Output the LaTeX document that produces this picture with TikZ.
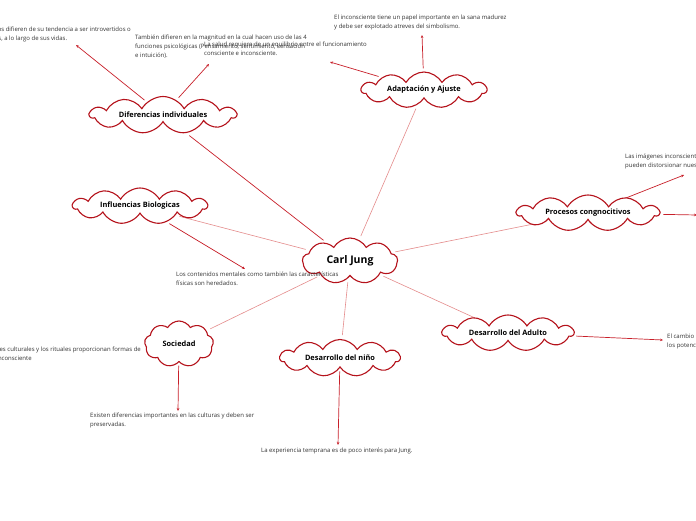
\documentclass[tikz,border=0pt]{standalone}
\usepackage{fontspec}
\setmainfont{Open Sans}
\usetikzlibrary{shapes.symbols,arrows.meta,backgrounds}
\definecolor{cloudred}{HTML}{B5121B}
\definecolor{arrred}{HTML}{C8202A}
\definecolor{lightred}{HTML}{E58C8C}
\definecolor{txtgray}{HTML}{333333}
\tikzset{
  topic/.style={cloud, cloud puffs=11, cloud puff arc=120, cloud ignores aspect, draw=cloudred, line width=1.1pt, fill=white,
    font=\fontsize{7.4}{8}\selectfont\bfseries, inner sep=0pt},
  leaf/.style={anchor=north west, inner sep=0pt, align=left, text=txtgray,
    font=\fontsize{6}{9}\selectfont},
  branch/.style={draw=lightred, line width=0.6pt, shorten <=4pt, shorten >=4pt},
  darkbranch/.style={draw=arrred, line width=0.7pt, shorten <=4pt, shorten >=4pt},
  toleaf/.style={draw=arrred, line width=0.7pt, shorten <=3pt, -{Stealth[length=3pt,width=2.6pt]}},
}
\begin{document}
\begin{tikzpicture}[x=1pt,y=-1pt]
\useasboundingbox (0,0) rectangle (696,520);

% topics
\node[topic, minimum width=95, minimum height=46, cloud puffs=9, font=\fontsize{10.5}{11}\selectfont\bfseries] (jung) at (350,261) {Carl Jung};
\node[topic, minimum width=146, minimum height=37] (dif) at (163,115) {Diferencias individuales};
\node[topic, minimum width=125, minimum height=36] (ada) at (424,90) {Adaptación y Ajuste};
\node[topic, minimum width=134, minimum height=36] (bio) at (140,206) {Influencias Biologicas};
\node[topic, minimum width=142, minimum height=36] (pro) at (588,213) {Procesos congnocitivos};
\node[topic, minimum width=131, minimum height=36] (adu) at (508,333) {Desarrollo del Adulto};
\node[topic, minimum width=120, minimum height=37] (nin) at (340,358) {Desarrollo del niño};
\node[topic, minimum width=69, minimum height=46, cloud puffs=9] (soc) at (179,344) {Sociedad};

% leaf texts
\node[leaf, anchor=north east] (t1) at (131,27) {Los individuos difieren de su tendencia a ser introvertidos o\\extrovertidos, a lo largo de sus vidas.};
\node[leaf] (t2) at (135,35) {También difieren en la magnitud en la cual hacen uso de las 4\\funciones psicológicas (Pensamiento, sentimiento, sensación\\e intuición).};
\node[leaf] (t3) at (204,42) {La salud requiere de un equilibrio entre el funcionamiento\\consciente e inconsciente.};
\node[leaf] (t4) at (334,15) {El inconsciente tiene un papel importante en la sana madurez\\y debe ser explotado atreves del simbolismo.};
\node[leaf] (t5) at (625,154) {Las imágenes inconscientes\\pueden distorsionar nuestra percepción.};
\node[leaf] (t6) at (176,272) {Los contenidos mentales como también las características\\físicas son heredados.};
\node[leaf, anchor=north east] (t7) at (141,347) {Las tradiciones culturales y los rituales proporcionan formas de\\expresar el inconsciente};
\node[leaf] (t8) at (90,413) {Existen diferencias importantes en las culturas y deben ser\\preservadas.};
\node[leaf] (t9) at (261,448) {La experiencia temprana es de poco interés para Jung.};
\node[leaf] (t10) at (667,334) {El cambio es constante\\los potenciales se desarrollan};

% end points of leaf connectors
\coordinate (e1) at (76,45);
\coordinate (e2) at (209,64);
\coordinate (e3) at (330,62);
\coordinate (e4) at (422,35);
\coordinate (e5) at (684,175);
\coordinate (e5b) at (697,215);
\coordinate (e6) at (245,269);
\coordinate (e7) at (155,346);
\coordinate (e8) at (178,411);
\coordinate (e9) at (338,445);
\coordinate (e10) at (663,340);

\begin{pgfonlayer}{background}
\fill[white] (0,0) rectangle (696,520);
% center branches
\draw[darkbranch] (jung) -- (dif);
\draw[branch] (jung) -- (ada);
\draw[branch] (jung) -- (bio);
\draw[branch] (jung) -- (pro);
\draw[branch] (jung) -- (adu);
\draw[branch] (jung) -- (nin);
\draw[branch] (jung) -- (soc);

% leaf connectors
\draw[toleaf] (dif) -- (e1);
\draw[toleaf] (dif) -- (e2);
\draw[toleaf] (ada) -- (e3);
\draw[toleaf] (ada) -- (e4);
\draw[toleaf] (pro) -- (e5);
\draw[toleaf] (pro) -- (e5b);
\draw[toleaf] (bio) -- (e6);
\draw[toleaf] (soc) -- (e7);
\draw[toleaf] (soc) -- (e8);
\draw[toleaf] (nin) -- (e9);
\draw[toleaf] (adu) -- (e10);
\end{pgfonlayer}
\end{tikzpicture}
\end{document}
